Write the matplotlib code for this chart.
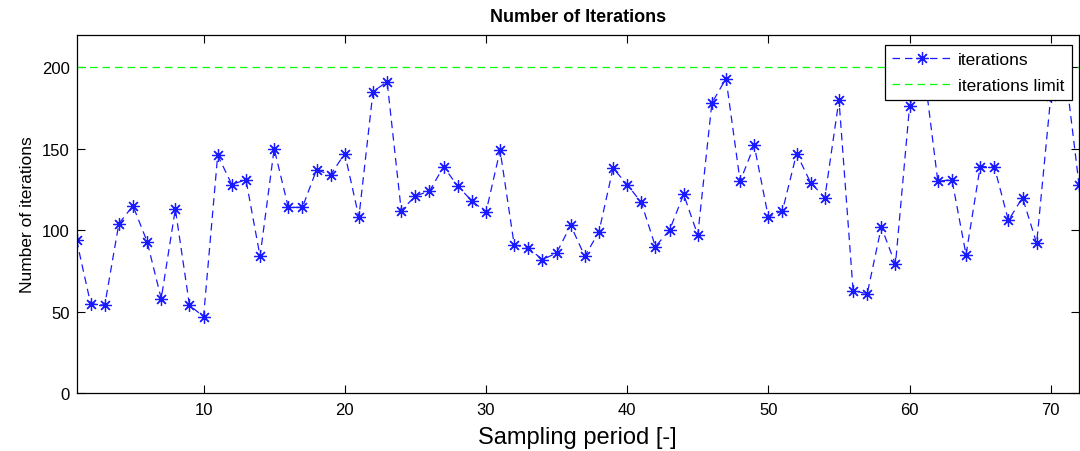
import matplotlib
matplotlib.use("Agg")
import matplotlib.pyplot as plt

plt.rcParams['font.family'] = ['Liberation Sans', 'DejaVu Sans']

periods = list(range(1, 73))
iterations = [94, 55, 54, 104, 115, 93, 58, 113, 54, 47,
              146, 128, 131, 84, 150, 114, 114, 137, 134, 147,
              108, 185, 191, 112, 121, 124, 139, 127, 118, 111,
              149, 91, 89, 82, 86, 103, 84, 99, 138, 128,
              117, 90, 100, 122, 97, 178, 193, 130, 152, 108,
              112, 147, 129, 120, 180, 63, 61, 102, 79, 176,
              200, 130, 131, 85, 139, 139, 106, 120, 92, 182,
              200, 128]
limit_value = 200
limit = [limit_value] * len(periods)
x_ticks = [10, 20, 30, 40, 50, 60, 70]
y_ticks = [0, 50, 100, 150, 200]

fig = plt.figure(figsize=(10.8, 4.52), dpi=100)
ax = fig.add_axes([76.5 / 1080, 1 - 394.3 / 452, (1079 - 76.5) / 1080, (394.3 - 35.5) / 452])

ax.plot(periods, iterations, color=(0.1, 0.1, 1), linestyle=(0, (6, 4)), linewidth=0.9,
        marker=(8, 2, 0), markersize=9, markeredgewidth=0.9, label='iterations')
ax.plot(periods, limit, color=(0, 1, 0), linestyle=(0, (6, 4)), linewidth=0.9,
        label='iterations limit')

ax.set_xlim(1, 72)
ax.set_ylim(0, 220)
ax.set_xticks(x_ticks)
ax.set_yticks(y_ticks)
ax.tick_params(direction='in', length=6, width=0.8, top=True, right=True,
               labelsize=12)
ax.tick_params(axis='x', pad=6)
ax.tick_params(axis='y', pad=5)
for s in ax.spines.values():
    s.set_linewidth(0.9)
    s.set_color('black')

ax.set_title('Number of Iterations', fontsize=13, fontweight='bold', pad=10)
ax.set_xlabel('Sampling period [-]', fontsize=17, labelpad=7)
ax.set_ylabel('Number of iterations', fontsize=12.5)
ax.yaxis.set_label_coords(-0.041, 0.5)

leg = ax.legend(loc='upper right', bbox_to_anchor=(0.9927, 0.9716), borderaxespad=0,
                fontsize=12.5, handlelength=3.4, handletextpad=0.4, labelspacing=0.65,
                borderpad=0.4, fancybox=False, framealpha=1, edgecolor='black')
leg.get_frame().set_linewidth(0.9)

fig.savefig('out.png', dpi=100)
